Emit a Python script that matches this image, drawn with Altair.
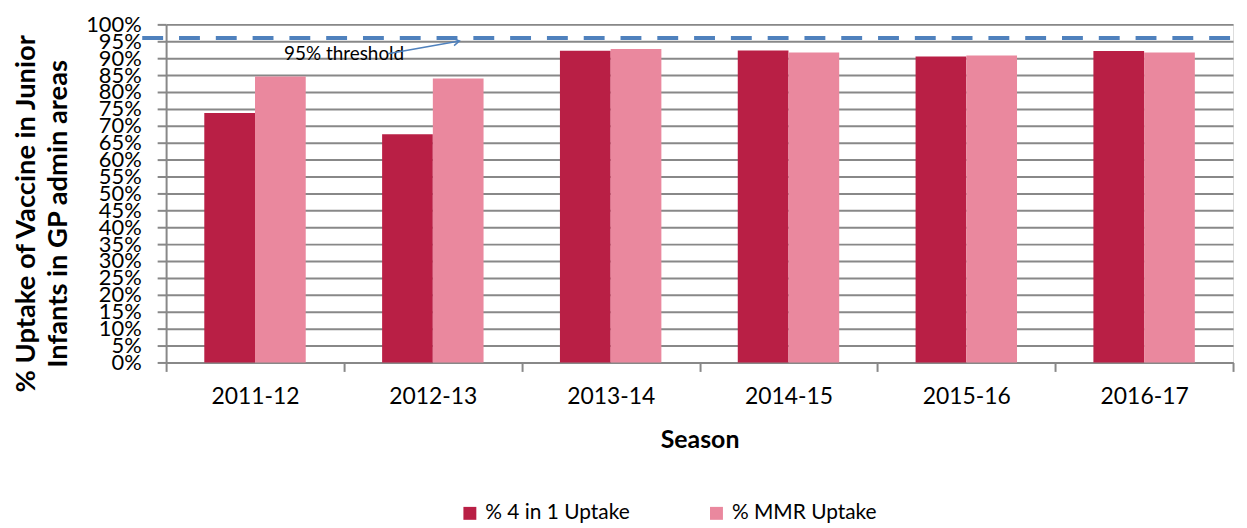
import altair as alt
import pandas as pd

seasons = ["2011-12", "2012-13", "2013-14", "2014-15", "2015-16", "2016-17"]
uptake_4in1 = [73.8, 67.5, 92.2, 92.3, 90.5, 92.1]
uptake_mmr = [84.6, 84.0, 92.7, 91.7, 90.8, 91.7]
series_names = ["% 4 in 1 Uptake", "% MMR Uptake"]
series_colors = ["#B91F45", "#EA889E"]
threshold_value = [96]
y_ticks = list(range(0, 101, 5))
annotation_text = "95% threshold"
arrow_y = [91.3, 95.1]

rows = []
for s, a, b in zip(seasons, uptake_4in1, uptake_mmr):
    rows.append({"Season": s, "Series": series_names[0], "Value": a})
    rows.append({"Season": s, "Series": series_names[1], "Value": b})
df = pd.DataFrame(rows)

FONT = "Lato"
W, H = 1073, 340

y_scale = alt.Scale(domain=[0, 100], nice=False)
y_axis = alt.Axis(values=y_ticks, labelExpr="datum.value + '%'",
                  labelOverlap=False, labelFlush=False,
                  labelFont=FONT, labelFontSize=22, labelColor="#000",
                  labelPadding=16, tickSize=9, tickColor="#888", tickWidth=2,
                  domainColor="#888", domainWidth=2,
                  gridColor="#888", gridWidth=2,
                  title=["% Uptake of Vaccine in Junior", "Infants in GP admin areas"],
                  titleFont=FONT, titleFontSize=27.5, titleFontWeight="bold",
                  titleColor="#000", titleX=-140, titleY=190,
                  titleAngle=-90, titleAlign="center", titleBaseline="middle",
                  titleLineHeight=32)

bars = alt.Chart(df).mark_bar().encode(
    x=alt.X("Season:N", sort=seasons,
            scale=alt.Scale(paddingInner=0, paddingOuter=0),
            axis=alt.Axis(title="Season", labelAngle=0, labelFontSize=23,
                          labelFont=FONT, labelColor="#000", labelPadding=14,
                          tickBand="extent", tickSize=9, tickColor="#888",
                          tickWidth=2, domainColor="#888", domainWidth=2,
                          titleFont=FONT, titleFontSize=25, titleFontWeight="bold",
                          titleColor="#000", titlePadding=20, grid=False)),
    xOffset=alt.XOffset("Series:N", sort=series_names,
                        scale=alt.Scale(paddingOuter=0.753, paddingInner=0)),
    y=alt.Y("Value:Q", scale=y_scale, axis=y_axis),
    color=alt.Color("Series:N", sort=series_names,
                    scale=alt.Scale(domain=series_names, range=series_colors),
                    legend=alt.Legend(title=None, orient="none", direction="horizontal",
                                      legendX=295, legendY=481, symbolType="square",
                                      symbolSize=169, symbolStrokeWidth=0,
                                      labelFont=FONT, labelFontSize=21, labelColor="#000",
                                      labelOffset=5, columnPadding=76, labelLimit=300)),
)

thr = alt.Chart(pd.DataFrame({"t": threshold_value})).mark_rule(
    color="#4F81BD", strokeWidth=4, strokeDash=[21, 16]
).encode(y=alt.Y("t:Q", scale=y_scale, axis=y_axis), x=alt.value(-24), x2=alt.value(W + 6))

ann_df = pd.DataFrame({"label": [annotation_text], "y": [arrow_y[0]]})
ann_text = alt.Chart(ann_df).mark_text(
    font=FONT, fontSize=19, color="#000", align="center", baseline="middle"
).encode(text="label:N", y=alt.Y("y:Q", scale=y_scale, axis=y_axis), x=alt.value(179))

arrow_df = pd.DataFrame({"y0": [arrow_y[0]], "y1": [arrow_y[1]]})
arrow_line = alt.Chart(arrow_df).mark_rule(color="#4F81BD", strokeWidth=1.5).encode(
    y=alt.Y("y0:Q", scale=y_scale, axis=y_axis), y2="y1:Q",
    x=alt.value(223), x2=alt.value(295))
arrow_head = alt.Chart(arrow_df).mark_point(
    shape="M -1 -0.6 L 0 0 L -1 0.6", filled=False, color="#4F81BD",
    strokeWidth=1.5, size=150, angle=350, opacity=1
).encode(y=alt.Y("y1:Q", scale=y_scale, axis=y_axis), x=alt.value(295))

chart = alt.layer(bars, thr, ann_text, arrow_line, arrow_head).properties(
    width=W, height=H,
    autosize=alt.AutoSizeParams(type="none"),
    padding={"left": 159, "top": 15, "right": 6, "bottom": 163},
).configure_view(stroke=None).configure(background="white")

chart.save("out.html", embed_options={"renderer": "svg", "actions": False})
